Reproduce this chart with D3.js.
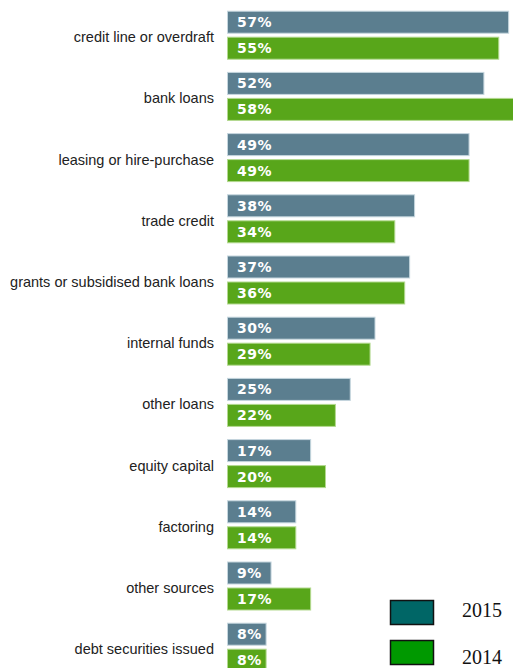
<!DOCTYPE html>
<html>
<head>
<meta charset="utf-8">
<script src="https://cdn.jsdelivr.net/npm/d3@7"></script>
<style>
  html, body { margin: 0; padding: 0; background: #fff; }
  svg { display: block; }
</style>
</head>
<body>
<svg id="chart" width="513" height="668"></svg>
<script>
const categories = [
  "credit line or overdraft",
  "bank loans",
  "leasing or hire-purchase",
  "trade credit",
  "grants or subsidised bank loans",
  "internal funds",
  "other loans",
  "equity capital",
  "factoring",
  "other sources",
  "debt securities issued"
];
const values2015 = [57, 52, 49, 38, 37, 30, 25, 17, 14, 9, 8];
const values2014 = [55, 58, 49, 34, 36, 29, 22, 20, 14, 17, 8];
const seriesNames = ["2015", "2014"];

const svg = d3.select("#chart");

const x = d3.scaleLinear().domain([0, 100]).range([227, 227 + 495]);
const y = d3.scaleBand().domain(categories).range([10.7, 10.7 + 11 * 61.2]).padding(0);
const inner = d3.scaleBand().domain(seriesNames).range([0, 49]).paddingInner(0.115).paddingOuter(0);

const barFill = { "2015": "#5b7e8f", "2014": "#58a61a" };
const barEdge = { "2015": "#c5d6de", "2014": "#b3d98f" };

const data = [];
categories.forEach((c, i) => {
  data.push({ cat: c, s: "2015", v: values2015[i] });
  data.push({ cat: c, s: "2014", v: values2014[i] });
});

// category labels
svg.append("g").selectAll("text")
  .data(categories)
  .join("text")
  .attr("x", 214)
  .attr("y", d => y(d) + 24.5 + 7)
  .attr("text-anchor", "end")
  .attr("font-family", "'Liberation Sans', Arial, sans-serif")
  .attr("font-size", 14.5)
  .attr("fill", "#222")
  .text(d => d);

// bars
const bars = svg.append("g");
bars.selectAll("rect")
  .data(data)
  .join("rect")
  .attr("x", x(0) + 0.5)
  .attr("y", d => y(d.cat) + inner(d.s) + 0.5)
  .attr("width", d => x(d.v) - x(0) - 1)
  .attr("height", inner.bandwidth() - 1)
  .attr("fill", d => barFill[d.s])
  .attr("stroke", d => barEdge[d.s])
  .attr("stroke-width", 1);

// value labels
svg.append("g").selectAll("text")
  .data(data)
  .join("text")
  .attr("x", x(0) + 10)
  .attr("y", d => y(d.cat) + inner(d.s) + inner.bandwidth() / 2 + 5)
  .attr("font-family", "'DejaVu Sans', Verdana, sans-serif")
  .attr("font-weight", "bold")
  .attr("font-size", 14)
  .attr("letter-spacing", 0.5)
  .attr("fill", "#fff")
  .text(d => d.v + "%");

// legend
const legendColors = { "2015": "#006666", "2014": "#009900" };
const legendY = { "2015": 600, "2014": 640 };
const lg = svg.append("g");
seriesNames.forEach(s => {
  lg.append("rect")
    .attr("x", 390.5)
    .attr("y", legendY[s] + 0.5)
    .attr("width", 43)
    .attr("height", 24)
    .attr("fill", legendColors[s])
    .attr("stroke", "#111")
    .attr("stroke-width", 1.5);
  lg.append("text")
    .attr("x", 462)
    .attr("y", legendY[s] + 17 + (s === "2014" ? 7 : 0))
    .attr("font-family", "'Liberation Serif', 'Times New Roman', serif")
    .attr("font-size", 20)
    .attr("fill", "#111")
    .text(s);
});
</script>
</body>
</html>
